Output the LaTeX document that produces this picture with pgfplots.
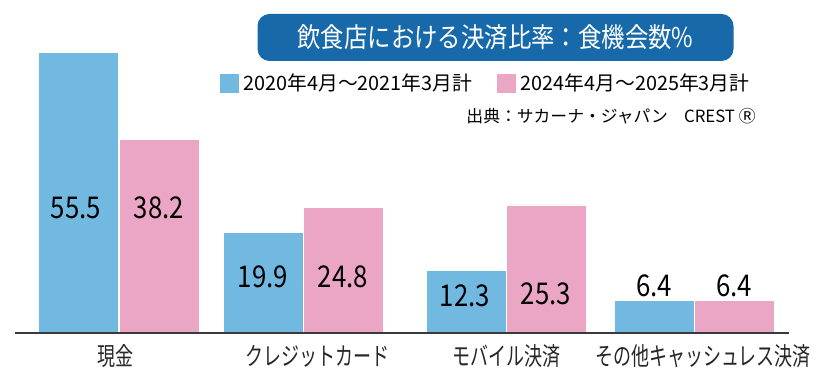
\documentclass[border=0pt]{standalone}
\usepackage{pgfplots}
\pgfplotsset{compat=1.18}
\usepackage{fontspec}
\setmainfont{Noto Sans CJK JP}
\newfontfamily\condfont{Noto Sans CJK JP}[FakeStretch=0.72]
\newfontfamily\numfont{Noto Sans CJK JP}[FakeStretch=0.86]
\newfontfamily\titlefont{Noto Sans CJK JP}[FakeStretch=0.86]
\definecolor{barblue}{HTML}{72B9E2}
\definecolor{barpink}{HTML}{ECA6C5}
\definecolor{titleblue}{HTML}{1769AA}
\definecolor{axisgray}{HTML}{3A3A3A}
\begin{document}
\begin{tikzpicture}[x=0.5pt,y=0.5pt]
\path[use as bounding box] (0,0) rectangle (820,379);
\begin{axis}[
  at={(7.5pt,23pt)}, anchor=south west,
  x=0.5pt, y=2.53pt,
  xmin=15, xmax=789, ymin=0, ymax=60,
  clip=false, axis on top,
  axis x line*=bottom, axis y line=none,
  x axis line style={-, draw=axisgray, line width=0.8pt},
  xtick={116,317,506,703},
  xticklabels={現金,クレジットカード,モバイル決済,その他キャッシュレス決済},
  xtick style={draw=none},
  ytick=\empty,
  xticklabel style={anchor=center, yshift=-11.5pt, font=\condfont\fontsize{12.5pt}{12.5pt}\selectfont, text=black!85},
  legend style={at={(0.2635,0.822)}, anchor=west, draw=none, fill=none,
    inner sep=0pt, outer sep=0pt,
    font=\fontsize{9.9pt}{9.9pt}\selectfont,
    /tikz/every even column/.append style={column sep=10pt}},
  legend columns=2,
  legend image code/.code={\fill[#1] (0pt,-5pt) rectangle (10pt,5pt);},
]
\addplot[ybar, bar width=80, bar shift=0pt, fill=barblue, draw=white, line width=0.3pt]
  coordinates {(78,55.5) (263,19.9) (466,12.3) (654,6.4)};
\addplot[ybar, bar width=80, bar shift=0pt, fill=barpink, draw=white, line width=0.3pt]
  coordinates {(159,38.2) (343,24.8) (546,25.3) (734,6.4)};
\legend{2020年4月～2021年3月計,2024年4月～2025年3月計}
\begin{scope}[every node/.style={font=\numfont\fontsize{15pt}{15pt}\selectfont, text=black}]
\node at (axis cs:76,24.7) {55.5};
\node at (axis cs:159,24.7) {38.2};
\node at (axis cs:263,11.1) {19.9};
\node at (axis cs:343,11.1) {24.8};
\node at (axis cs:465,7.3) {12.3};
\node at (axis cs:546,7.8) {25.3};
\node at (axis cs:654,9.3) {6.4};
\node at (axis cs:734,9.3) {6.4};
\end{scope}
\end{axis}
\node[fill=titleblue, rounded corners=6pt, minimum width=238pt, minimum height=23.5pt, inner sep=0pt, text=white, font=\titlefont\fontsize{13.6pt}{13.6pt}\selectfont] at (495.5,341.5) {飲食店における決済比率：食機会数\%};
\node[anchor=east, inner sep=0pt, font=\fontsize{8.4pt}{8.4pt}\selectfont] at (756,263) {出典：サカーナ・ジャパン\hspace{8pt}CREST Ⓡ};
\end{tikzpicture}
\end{document}
